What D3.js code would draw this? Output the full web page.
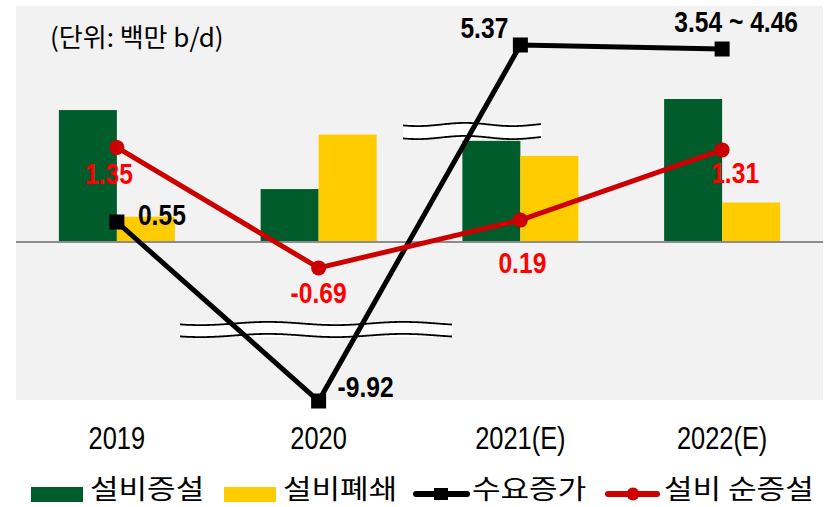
<!DOCTYPE html>
<html>
<head>
<meta charset="utf-8">
<script src="https://cdn.jsdelivr.net/npm/d3@7"></script>
<style>
  body { margin: 0; background: #fff; }
  text { font-family: "Liberation Sans", Arial, sans-serif; }
  .kr { font-family: "Noto Sans CJK KR", "Liberation Sans", sans-serif; }
</style>
</head>
<body>
<script>
var width = 825,
    height = 507;

// data
var categories = ["2019", "2020", "2021(E)", "2022(E)"];
var capacityAdd = [1.67, 0.67, 1.28, 1.81];     // 설비증설
var capacityClose = [0.32, 1.36, 1.09, 0.50];   // 설비폐쇄
var demandGrowth = [0.55, -9.92, 5.37, 4.46];   // 수요증가
var demandLabels = ["0.55", "-9.92", "5.37", "3.54 ~ 4.46"];
var netAdd = [1.35, -0.69, 0.19, 1.31];         // 설비 순증설
var netLabels = ["1.35", "-0.69", "0.19", "1.31"];
var seriesNames = ["설비증설", "설비폐쇄", "수요증가", "설비 순증설"];

// label offsets from the marker (dx, dy)
var demandOffsets = [[45, 3], [47, -4], [-36, -7], [14, -17]];
var netOffsets = [[-8, 37], [0, 35], [2, 53], [13, 33]];

var green = "#005c2a",
    yellow = "#ffcc00",
    red = "#cc0000";

var squeeze = 0.82; // narrow look of the latin labels

var svg = d3.select("body").append("svg")
    .attr("width", width)
    .attr("height", height);

var plotLeft = 16, plotRight = 823, plotTop = 6, plotBottom = 400;

var x = d3.scaleBand()
    .domain(categories)
    .range([plotLeft, plotRight]);

var barW = 58;
var xSub = d3.scaleBand()
    .domain(["add", "close"])
    .range([x.bandwidth() / 2 - barW, x.bandwidth() / 2 + barW]);

// bars on the primary axis
var y = d3.scaleLinear()
    .domain([-2, 3])
    .range([plotBottom, plotTop - 1]);

// lines on broken secondary axes
var yDemand = d3.scaleLinear()
    .domain([-9.92, 0.55, 4.46, 5.37])
    .range([401, 222, 49, 45]);

var yNet = d3.scaleLinear()
    .domain([-1, 0, 1.5])
    .range([284, 232, 138]);

svg.append("rect")
    .attr("x", plotLeft)
    .attr("y", plotTop)
    .attr("width", plotRight - plotLeft)
    .attr("height", plotBottom - plotTop)
    .attr("fill", "#f2f2f2");

// bars
var barData = categories.map(function(c, i) {
  return [
    {cat: c, key: "add", v: capacityAdd[i]},
    {cat: c, key: "close", v: capacityClose[i]}
  ];
});

svg.append("g").attr("class", "bars")
  .selectAll("g")
  .data(barData)
  .enter().append("g")
    .attr("transform", function(d) { return "translate(" + x(d[0].cat) + ",0)"; })
  .selectAll("rect")
  .data(function(d) { return d; })
  .enter().append("rect")
    .attr("x", function(d) { return xSub(d.key); })
    .attr("width", xSub.bandwidth())
    .attr("y", function(d) { return y(Math.max(0, d.v)); })
    .attr("height", function(d) { return Math.abs(y(d.v) - y(0)); })
    .attr("fill", function(d) { return d.key == "add" ? green : yellow; });

// zero line
svg.append("line")
    .attr("x1", plotLeft)
    .attr("x2", plotRight)
    .attr("y1", y(0))
    .attr("y2", y(0))
    .attr("stroke", "#8c8c8c")
    .attr("stroke-width", 2);

// axis break marks
function breakMark(x0, x1, yTop, yBot, wave) {
  var g = svg.append("g").attr("class", "break");
  var pts = d3.range(x0, x1 + 1, 2);
  g.append("rect")
    .attr("x", x0)
    .attr("y", yTop)
    .attr("width", x1 - x0)
    .attr("height", yBot - yTop)
    .attr("fill", "#fff");
  var wline = d3.line()
    .x(function(d) { return d[0]; })
    .y(function(d) { return d[1]; })
    .curve(d3.curveBasis);
  [yTop + 1.5, yBot - 1.5].forEach(function(yy) {
    g.append("path")
      .attr("d", wline(pts.map(function(px) {
        return [px, yy + 1.6 * Math.sin((px - x0) / wave * 2 * Math.PI + 0.6)];
      })))
      .attr("fill", "none")
      .attr("stroke", "#000")
      .attr("stroke-width", 1.8);
  });
}
breakMark(403, 542, 123, 139, 95);
breakMark(180, 453, 322, 337, 135);

var cx = function(i) { return x(categories[i]) + x.bandwidth() / 2; };

var line = d3.line()
    .x(function(d) { return d.x; })
    .y(function(d) { return d.y; });

// 수요증가 line
var demandPts = demandGrowth.map(function(v, i) { return {x: cx(i), y: yDemand(v)}; });
svg.append("path")
    .attr("d", line(demandPts))
    .attr("fill", "none")
    .attr("stroke", "#000")
    .attr("stroke-width", 5);

svg.append("g").selectAll("rect")
    .data(demandPts)
    .enter().append("rect")
    .attr("x", function(d) { return d.x - 7.5; })
    .attr("y", function(d) { return d.y - 7.5; })
    .attr("width", 15)
    .attr("height", 15)
    .attr("fill", "#000");

// 설비 순증설 line
var netPts = netAdd.map(function(v, i) { return {x: cx(i), y: yNet(v)}; });
svg.append("path")
    .attr("d", line(netPts))
    .attr("fill", "none")
    .attr("stroke", red)
    .attr("stroke-width", 5);

svg.append("g").selectAll("circle")
    .data(netPts)
    .enter().append("circle")
    .attr("cx", function(d) { return d.x; })
    .attr("cy", function(d) { return d.y; })
    .attr("r", 7.5)
    .attr("fill", red);

// narrow text helper
function narrowText(g, tx, ty, txt) {
  return g.append("text")
    .attr("transform", "translate(" + tx + "," + ty + ") scale(" + squeeze + ",1)")
    .attr("text-anchor", "middle")
    .text(txt);
}

var labels = svg.append("g").attr("class", "labels");
demandPts.forEach(function(p, i) {
  narrowText(labels, p.x + demandOffsets[i][0], p.y + demandOffsets[i][1], demandLabels[i])
    .attr("font-size", 30)
    .attr("font-weight", "bold")
    .attr("fill", "#000");
});
netPts.forEach(function(p, i) {
  narrowText(labels, p.x + netOffsets[i][0], p.y + netOffsets[i][1], netLabels[i])
    .attr("font-size", 30)
    .attr("font-weight", "bold")
    .attr("fill", "#ff0000");
});

// category labels
var axisG = svg.append("g").attr("class", "x-axis");
categories.forEach(function(c, i) {
  narrowText(axisG, cx(i), 449, c)
    .attr("font-size", 31)
    .attr("fill", "#000");
});

// unit
svg.append("text")
    .attr("x", 50)
    .attr("y", 47)
    .attr("font-size", 26)
    .attr("class", "kr")
    .attr("fill", "#000")
    .text("(단위: 백만 b/d)");

// legend
var legend = svg.append("g").attr("class", "legend");
var legX = [31, 224, 413, 605];
legend.append("rect").attr("x", legX[0]).attr("y", 487).attr("width", 52).attr("height", 15).attr("fill", green);
legend.append("rect").attr("x", legX[1]).attr("y", 487).attr("width", 52).attr("height", 15).attr("fill", yellow);

legend.append("line")
    .attr("x1", legX[2] + 3).attr("x2", legX[2] + 54)
    .attr("y1", 494).attr("y2", 494)
    .attr("stroke", "#000").attr("stroke-width", 6).attr("stroke-linecap", "round");
legend.append("rect")
    .attr("x", legX[2] + 21).attr("y", 488).attr("width", 14).attr("height", 12).attr("fill", "#000");

legend.append("line")
    .attr("x1", legX[3] + 3).attr("x2", legX[3] + 52)
    .attr("y1", 494).attr("y2", 494)
    .attr("stroke", red).attr("stroke-width", 6).attr("stroke-linecap", "round");
legend.append("circle")
    .attr("cx", legX[3] + 28).attr("cy", 494).attr("r", 6.5).attr("fill", red);

seriesNames.forEach(function(name, i) {
  legend.append("text")
    .attr("class", "kr")
    .attr("transform", "translate(" + (legX[i] + 59) + ",499) scale(1.15,1)")
    .attr("font-size", 27)
    .attr("fill", "#000")
    .text(name);
});
</script>
</body>
</html>
